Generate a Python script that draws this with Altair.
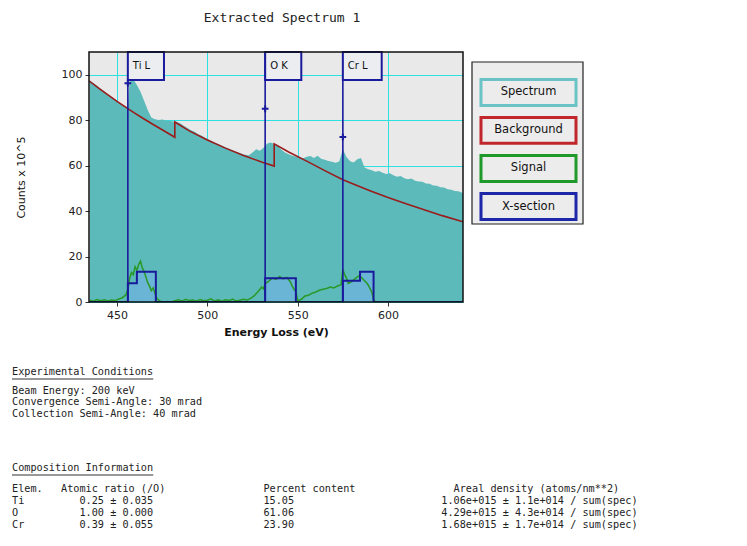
import altair as alt
import pandas as pd

# ---------------- data ----------------
spec_energy = [435, 437, 439, 441, 443, 445, 447, 449, 451, 453, 455, 456, 457, 459, 461, 463, 465, 467, 469,
               471, 473, 475, 477, 479, 481, 483, 485, 487, 489, 491, 493, 495, 497, 499, 501, 503, 505, 507,
               509, 511, 513, 515, 517, 519, 521, 523, 525, 527, 529, 531, 533, 535, 537, 539, 541, 543, 545,
               547, 549, 551, 553, 555, 557, 559, 561, 563, 565, 567, 569, 571, 573, 575, 577, 579, 581, 583,
               585, 587, 589, 591, 593, 595, 597, 599, 601, 603, 605, 607, 609, 611, 613, 615, 617, 619, 621,
               623, 625, 627, 629, 631, 633, 635, 637, 639, 641, 642]
spec_counts = [97.4, 96.2, 95.1, 93.7, 92.6, 91.3, 90.2, 89.0, 87.8, 86.7, 85.9, 85.6, 97.5, 98.0, 95.5, 92.5,
               88.5, 84.5, 81.2, 80.4, 80.1, 80.3, 79.9, 79.7, 79.4, 79.3, 78.6, 77.5, 76.6, 75.6, 74.9, 73.8,
               73.1, 72.2, 71.4, 70.6, 69.8, 69.2, 68.4, 67.8, 67.1, 66.4, 65.9, 65.2, 64.8, 64.6, 65.8, 67.2,
               66.5, 67.8, 69.6, 70.2, 69.5, 68.6, 67.0, 65.8, 65.0, 64.4, 64.0, 63.6, 63.2, 63.9, 64.2, 63.4,
               64.3, 63.0, 62.6, 62.0, 61.7, 61.3, 61.8, 67.2, 63.8, 61.9, 61.4, 62.8, 63.4, 59.2, 58.4, 58.0,
               57.3, 57.6, 56.9, 56.3, 56.6, 55.8, 55.1, 55.4, 54.5, 54.0, 54.3, 53.4, 53.0, 52.9, 52.1, 52.0,
               51.3, 51.1, 50.5, 50.4, 49.6, 49.4, 48.8, 48.7, 48.1, 48.0]

bg_energy = [434.5, 440, 445, 450, 455, 460, 465, 470, 475, 482, 482, 490, 500, 510, 520, 530, 537, 537,
             545, 555, 565, 575, 590, 600, 610, 620, 630, 641.5]
bg_counts = [97.3, 94.0, 91.1, 88.3, 85.6, 83.0, 80.5, 78.1, 75.8, 72.5, 79.2, 75.3, 71.3, 67.7, 64.5, 61.6,
             59.8, 69.6, 66.0, 62.0, 57.8, 53.8, 49.0, 46.0, 43.2, 40.6, 38.0, 35.3]

sig_energy = [435, 437, 439, 441, 443, 445, 447, 449, 451, 453, 455, 456, 457, 458, 459, 460, 461, 462, 463,
              464, 465, 466, 467, 468, 469, 470, 471, 472, 474, 476, 478, 480, 482, 484, 486, 488, 490, 492,
              494, 496, 498, 500, 502, 504, 506, 508, 510, 512, 514, 516, 518, 520, 522, 524, 526, 528, 530,
              531, 532, 534, 536, 538, 540, 542, 544, 546, 547, 548, 549, 550, 552, 554, 556, 558, 560, 562,
              564, 566, 568, 570, 572, 574, 575, 576, 577, 578, 580, 582, 584, 585, 586, 588, 589, 590, 591,
              592, 593, 642]
sig_counts = [0.8, 0.3, 1.1, 0.5, 1.0, 0.4, 0.9, 0.6, 1.3, 1.9, 3.2, 5.5, 10.5, 13.0, 12.0, 15.5, 14.0, 16.5,
              18.0, 15.0, 13.5, 11.0, 8.5, 7.0, 5.0, 6.2, 4.0, 1.5, 0.3, 0.0, 0.2, 0.0, 0.5, 1.0, 0.4, 1.2,
              0.6, 0.9, 0.3, 1.1, 0.5, 0.8, 1.4, 0.4, 0.9, 0.3, 1.0, 0.6, 1.3, 0.4, 0.8, 1.2, 0.9, 1.6, 2.8,
              4.5, 6.5, 5.8, 8.0, 9.2, 10.6, 10.0, 11.2, 10.2, 10.8, 8.8, 7.0, 5.5, 4.8, 0.5, 1.2, 2.6, 3.0,
              3.9, 4.4, 5.2, 5.6, 5.9, 6.6, 6.2, 7.0, 7.6, 14.2, 12.0, 10.5, 8.2, 9.0, 10.4, 11.6, 11.0, 10.2,
              8.6, 7.5, 6.0, 4.5, 1.0, 0.0, 0.0]

xs_energy = [434.5, 456, 456, 461, 461, 471.5, 471.5, 532, 532, 549, 549, 575, 575, 584.5, 584.5, 592, 592, 641.5]
xs_counts = [0, 0, 8.2, 8.2, 13.3, 13.3, 0, 0, 10.5, 10.5, 0, 0, 9.3, 9.3, 13.3, 13.3, 0, 0]

edge_energy = [456, 532, 575]
edge_names = ["Ti L", "O K", "Cr L"]
edge_marker_counts = [96.3, 85.0, 72.6]

legend_names = ["Spectrum", "Background", "Signal", "X-section"]

x_tick_values = [450, 500, 550, 600]
y_tick_values = [0, 20, 40, 60, 80, 100]

title_text = "Extracted Spectrum 1"
x_title = "Energy Loss (eV)"
y_title = "Counts x 10^5"

cond_heading = "Experimental Conditions"
cond_lines = ["Beam Energy: 200 keV", "Convergence Semi-Angle: 30 mrad", "Collection Semi-Angle: 40 mrad"]
comp_heading = "Composition Information"
table_header = ["Elem.", "Atomic ratio (/O)", "Percent content", "Areal density (atoms/nm**2)"]
elements = ["Ti", "O", "Cr"]
ratios = ["0.25 \u00b1 0.035", "1.00 \u00b1 0.000", "0.39 \u00b1 0.055"]
percents = ["15.05", "61.06", "23.90"]
densities = ["1.06e+015 \u00b1 1.1e+014 / sum(spec)",
             "4.29e+015 \u00b1 4.3e+014 / sum(spec)",
             "1.68e+015 \u00b1 1.7e+014 / sum(spec)"]

# ---------------- styles / layout ----------------
W, H = 374, 250
TEAL = "#5cbaba"
XS_FILL = "#6ab4d6"
BG_RED = "#9a1c1c"
SIG_GREEN = "#2a9a2a"
NAVY = "#1a1a9c"
GRID = "#2ee0e0"
PLOT_BG = "#e9e9e9"
legend_stroke = ["#6cc3c6", "#c0262b", "#1f9a2a", "#1c28a8"]
SANS = "DejaVu Sans"
MONO = "DejaVu Sans Mono"
BOX_EV = [20, 20, 21.5]

xsc = alt.Scale(domain=[434.5, 641.5], nice=False, zero=False)
ysc = alt.Scale(domain=[0, 110], nice=False)
xaxis = alt.Axis(values=x_tick_values, grid=True, gridColor=GRID, gridWidth=1, gridOpacity=1,
                 domain=False, tickColor="#333", tickSize=4, labelFont=SANS, labelFontSize=11,
                 labelColor="#222", labelPadding=3, title=x_title, titleFont=SANS, titleFontSize=11,
                 titleFontWeight="bold", titleColor="#111", titlePadding=6)
yaxis = alt.Axis(values=y_tick_values, grid=True, gridColor=GRID, gridWidth=1, gridOpacity=1,
                 domain=False, tickColor="#333", tickSize=4, labelFont=SANS, labelFontSize=11,
                 labelColor="#222", labelPadding=3, title=y_title, titleFont=SANS, titleFontSize=11,
                 titleFontWeight="normal", titleColor="#111", titlePadding=35)
X = alt.X("e:Q", scale=xsc, axis=xaxis)
Y = alt.Y("c:Q", scale=ysc, axis=yaxis)

spec_df = pd.DataFrame({"e": spec_energy, "c": spec_counts})
bg_df = pd.DataFrame({"e": bg_energy, "c": bg_counts, "i": list(range(len(bg_energy)))})
sig_df = pd.DataFrame({"e": sig_energy, "c": sig_counts})
xs_df = pd.DataFrame({"e": xs_energy, "c": xs_counts, "i": list(range(len(xs_energy)))})
# flat, non-zero pieces of the cross-section step -> filled windows
win = [(xs_energy[k], xs_energy[k + 1], xs_counts[k]) for k in range(len(xs_energy) - 1)
       if xs_counts[k] == xs_counts[k + 1] and xs_counts[k] > 0]
win_df = pd.DataFrame(win, columns=["e", "e2", "c"])
edge_df = pd.DataFrame({"e": edge_energy, "c": edge_marker_counts, "name": edge_names,
                        "e2": [a + b for a, b in zip(edge_energy, BOX_EV)]})

spec_area = alt.Chart(spec_df).mark_area(color=TEAL, clip=True).encode(x=X, y=Y)
xs_fill = alt.Chart(win_df).mark_rect(color=XS_FILL, clip=True).encode(
    x=X, x2="e2:Q", y=Y, y2=alt.datum(0))
bg_line = alt.Chart(bg_df).mark_line(color=BG_RED, strokeWidth=1.6, clip=True).encode(
    x=X, y=Y, order=alt.Order("i:Q"))
sig_line = alt.Chart(sig_df).mark_line(color=SIG_GREEN, strokeWidth=1.6, clip=True).encode(x=X, y=Y)
xs_line = alt.Chart(xs_df).mark_line(color=NAVY, strokeWidth=2, clip=True).encode(
    x=X, y=Y, order=alt.Order("i:Q"))
edge_rules = alt.Chart(edge_df).mark_rule(color=NAVY, strokeWidth=1.6).encode(x=X)
edge_boxes = alt.Chart(edge_df).mark_rect(fill="#ecedf0", stroke=NAVY, strokeWidth=2).encode(
    x=X, x2="e2:Q", y=alt.value(0), y2=alt.value(28))
edge_text = alt.Chart(edge_df).mark_text(align="left", baseline="middle", dx=5, font=SANS,
                                         fontSize=10, color="#111").encode(
    x=X, y=alt.value(14), text="name:N")
plus_path = "M-1,0H1M0,-1V1"
edge_marks = alt.Chart(edge_df).mark_point(shape=plus_path, filled=False, stroke=NAVY,
                                           strokeWidth=2, size=45, opacity=1).encode(x=X, y=Y)
border = alt.Chart(pd.DataFrame({"k": [0]})).mark_rect(fillOpacity=0, stroke="#111",
                                                       strokeWidth=1.5).encode(
    x=alt.value(0), x2=alt.value(W), y=alt.value(0), y2=alt.value(H))

plot = alt.layer(spec_area, xs_fill, bg_line, sig_line, xs_line, edge_rules, edge_boxes,
                 edge_text, edge_marks, border)

# ---------------- legend panel ----------------
lx = alt.Scale(domain=[0, 1], range=[383, 494])
ly = alt.Scale(domain=[0, 1], range=[10, 172])
panel = alt.Chart(pd.DataFrame({"lx": [0], "lx2": [1], "ly": [0], "ly2": [1]})).mark_rect(
    fill="#ededed", stroke="#222", strokeWidth=1.2).encode(
    x=alt.X("lx:Q", scale=lx, axis=None), x2="lx2:Q",
    y=alt.Y("ly:Q", scale=ly, axis=None), y2="ly2:Q")
centers = [0.188, 0.422, 0.657, 0.892]
leg_df = pd.DataFrame({"name": legend_names, "stroke": legend_stroke,
                       "lx": [0.081] * 4, "lx2": [0.937] * 4, "mx": [0.509] * 4,
                       "ly": [c - 0.08 for c in centers], "ly2": [c + 0.08 for c in centers],
                       "my": centers})
leg_boxes = alt.Chart(leg_df).mark_rect(fill="#ececec", strokeWidth=3).encode(
    x=alt.X("lx:Q", scale=lx, axis=None), x2="lx2:Q",
    y=alt.Y("ly:Q", scale=ly, axis=None), y2="ly2:Q",
    stroke=alt.Stroke("stroke:N", scale=None))
leg_text = alt.Chart(leg_df).mark_text(font=SANS, fontSize=11.5, color="#111", baseline="middle").encode(
    x=alt.X("mx:Q", scale=lx, axis=None), y=alt.Y("my:Q", scale=ly, axis=None), text="name:N")
legend = alt.layer(panel, leg_boxes, leg_text)

# ---------------- text block below ----------------
CHAR_W = 6.14
FS = 10.2
LH = 11.9
NB = "\u00a0"
tx = alt.Scale(domain=[0, 100], range=[-77, -77 + 100 * CHAR_W])
ty = alt.Scale(domain=[0, 200], range=[320, 520])
header_cols = [0, 8, 41, 72]
value_cols = [0, 11, 41, 70]


def pad_row(items, cols):
    s = ""
    for col, txt in zip(cols, items):
        s = s.ljust(col) + txt
    return s.replace(" ", NB)


table_lines = [pad_row(table_header, header_cols)]
for row in zip(elements, ratios, percents, densities):
    table_lines.append(pad_row(row, value_cols))

head_df = pd.DataFrame({"col": [0, 0], "row": [0, 96], "txt": [cond_heading, comp_heading]})
heads = alt.Chart(head_df).mark_text(align="left", baseline="middle", font=MONO, fontSize=FS,
                                     color="#222").encode(
    x=alt.X("col:Q", scale=tx, axis=None), y=alt.Y("row:Q", scale=ty, axis=None), text="txt:N")
block_df = pd.DataFrame({"col": [0, 0], "row": [13.5, 112],
                         "txt": ["\n".join(cond_lines), "\n".join(table_lines)]})
blocks = alt.Chart(block_df).mark_text(
    align="left", baseline="top", font=MONO, fontSize=FS, color="#222", lineBreak="\n",
    lineHeight=LH).encode(
    x=alt.X("col:Q", scale=tx, axis=None), y=alt.Y("row:Q", scale=ty, axis=None), text="txt:N")
ul_df = pd.DataFrame({"col": [0, 0], "col2": [len(cond_heading), len(comp_heading)],
                      "row": [7, 103]})
underline = alt.Chart(ul_df).mark_rule(color="#333", strokeWidth=1).encode(
    x=alt.X("col:Q", scale=tx, axis=None), x2="col2:Q", y=alt.Y("row:Q", scale=ty, axis=None))
texts = alt.layer(heads, blocks, underline)

chart = alt.layer(plot, legend, texts).resolve_scale(x="independent", y="independent").properties(
    width=W, height=H,
    title=alt.TitleParams(title_text, font=MONO, fontSize=13, fontWeight="normal", color="#222",
                          anchor="middle", frame="group", dx=6, offset=26),
    autosize=alt.AutoSizeParams(type="none"),
    padding={"left": 81, "top": 44, "right": 276, "bottom": 244},
).configure_view(fill=PLOT_BG, stroke=None)

chart.save("out.html", embed_options={"renderer": "svg", "actions": False})
